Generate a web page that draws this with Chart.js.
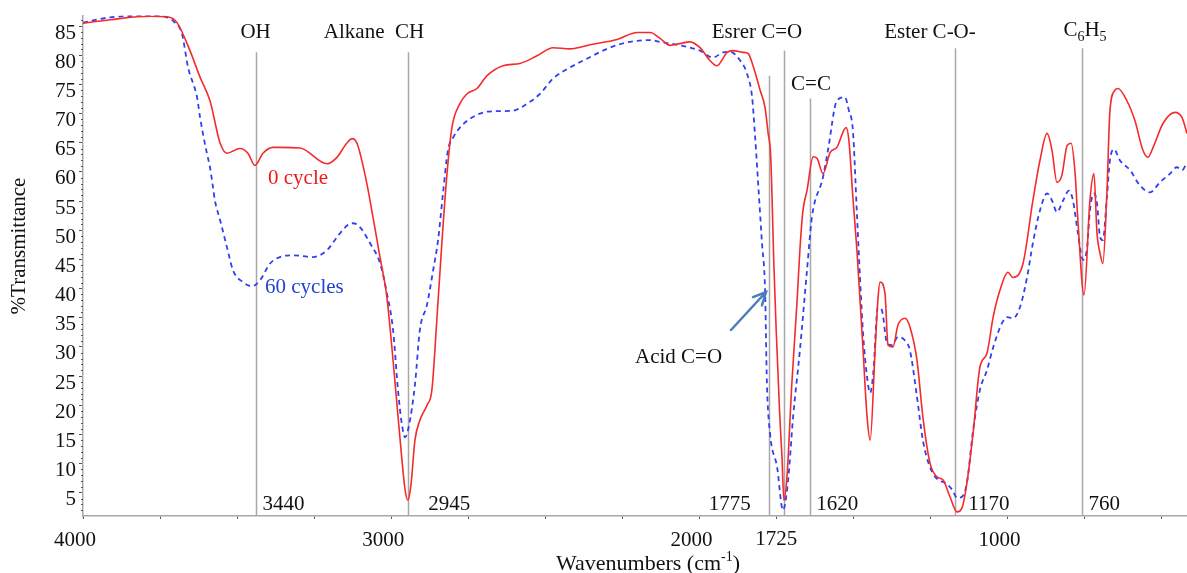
<!DOCTYPE html>
<html>
<head>
<meta charset="utf-8">
<script src="https://cdn.jsdelivr.net/npm/chart.js@4.4.1/dist/chart.umd.min.js"></script>
<style>
  html,body{margin:0;padding:0;background:#fff;}
  canvas{display:block;}
</style>
</head>
<body>
<canvas id="ir" width="1187" height="573"></canvas>
<script>
// ===== data (wavenumber cm-1, %T) =====
const wn0 = [4000,3912,3783,3727,3695,3653,3620,3588,3555,3533,3491,3465,3442,3416,3384,3361,3296,3208,3176,3143,3127,3111,3079,3059,3036,3014,2994,2971,2955,2946,2936,2923,2907,2884,2868,2852,2835,2819,2803,2777,2754,2722,2689,2637,2582,2527,2475,2420,2355,2267,2202,2160,2128,2095,2063,2031,1998,1966,1943,1910,1891,1859,1842,1826,1803,1787,1777,1769,1764,1759,1751,1740,1732,1726,1716,1700,1683,1674,1664,1651,1631,1618,1599,1576,1554,1524,1515,1502,1489,1469,1456,1446,1430,1421,1414,1398,1388,1372,1356,1333,1317,1294,1275,1252,1229,1210,1187,1164,1148,1132,1112,1090,1067,1047,1025,999,983,950,918,895,872,856,840,824,807,794,781,772,752,733,720,710,700,691,678,668,652,642,613,587,561,545,528,496,457,434,418];
const t0  = [85.5,86.1,86.7,86.6,85.6,80.8,76.2,72.2,64.9,63.2,64.0,63.2,61.1,63.2,64.2,64.2,64.1,61.4,62.5,65.0,65.7,64.9,58.0,52.2,45.3,38.5,27.7,14.0,5.5,3.7,6.3,14.0,17.4,20.0,22.6,34.6,48.3,59.7,67.6,71.7,73.4,74.3,76.5,78.2,78.6,79.9,81.3,81.1,81.8,82.7,83.9,83.9,82.9,81.7,82.0,82.3,81.3,79.1,78.2,80.5,80.8,80.5,80.3,78.2,74.0,71.0,66.6,63.0,55.0,45.0,33.0,19.0,11.0,3.7,7.7,23.8,38.0,46.6,53.4,56.8,62.6,62.3,59.7,63.3,64.2,67.6,65.4,55.6,46.6,29.4,18.0,14.0,29.4,38.0,41.1,39.2,30.3,30.0,33.7,34.9,33.4,27.7,18.0,10.1,7.7,7.2,4.3,1.7,2.4,6.7,15.2,26.5,28.9,35.1,39.7,42.8,41.9,44.3,55.1,62.0,66.6,63.7,58.2,59.4,64.5,64.9,59.7,51.7,38.9,55.1,59.7,49.5,46.0,44.3,56.3,70.5,74.0,74.3,72.2,68.8,63.7,62.5,64.2,68.3,70.2,69.3,66.6];

const wn60 = [4000,3912,3783,3727,3708,3679,3659,3630,3620,3611,3598,3588,3578,3572,3555,3533,3513,3481,3452,3426,3393,3361,3319,3254,3208,3176,3143,3124,3101,3069,3036,3014,2994,2978,2965,2955,2942,2923,2907,2884,2864,2848,2832,2816,2799,2770,2712,2670,2605,2559,2517,2475,2420,2365,2300,2235,2160,2128,2063,2031,1998,1956,1923,1901,1868,1846,1829,1820,1810,1797,1787,1781,1771,1748,1729,1713,1696,1674,1651,1635,1599,1583,1554,1528,1515,1502,1489,1479,1469,1456,1446,1436,1421,1408,1391,1375,1356,1333,1317,1294,1275,1252,1226,1203,1180,1164,1148,1132,1112,1090,1067,1047,1018,1002,983,960,937,918,895,872,856,840,820,801,788,772,755,742,733,720,710,700,691,678,668,655,636,603,571,538,506,473,451,434,418];
const t60 = [85.6,86.5,86.8,86.5,85.9,83.7,77.9,72.8,69.3,66.6,63.2,60.8,57.3,55.1,51.7,47.1,43.1,41.1,40.4,41.4,44.3,45.4,45.7,45.4,46.6,48.8,50.8,51.2,50.5,47.8,44.3,39.2,32.9,22.6,16.6,14.5,16.6,23.5,32.9,37.2,43.1,48.3,56.3,63.7,65.9,68.0,70.0,70.4,70.5,71.7,73.4,76.0,77.9,79.4,81.1,82.2,82.6,82.3,81.7,81.3,80.8,79.6,80.5,80.6,79.1,76.9,72.8,66.6,58.5,47.8,39.7,23.8,15.2,9.4,2.0,6.7,18.0,29.4,43.1,52.2,59.1,63.7,72.2,72.8,70.5,67.1,52.9,41.9,32.3,24.8,22.1,25.5,36.8,36.3,30.6,30.3,31.7,31.1,29.4,21.4,14.0,9.4,7.2,6.7,5.5,4.1,4.3,6.7,15.7,22.6,26.0,29.9,34.1,35.1,34.9,36.8,41.9,47.8,53.4,56.3,55.1,53.1,55.1,56.8,55.1,49.5,44.9,47.1,53.4,56.3,54.6,48.8,48.3,55.6,62.0,63.9,62.0,60.3,57.7,56.5,58.2,59.7,60.8,60.3,61.6];

// band marker lines
const markerWn  = [3440, 2945, 1775, 1725, 1640, 1170, 760];
const markerTop = [80.5, 80.5, 76.5, 80.8, 72.6, 81.2, 81.2];
const markerNum = ['3440','2945','1775','','1620','1170','760'];

const xTicks = [4000,3750,3500,3250,3000,2750,2500,2250,2000,1750,1500,1250,1000,750,500];
const xLabeled = [4000,3000,2000,1000];
const yTicks = [5,10,15,20,25,30,35,40,45,50,55,60,65,70,75,80,85];

const SERIF = "'Liberation Serif','DejaVu Serif',serif";
const pts = (xs,ys)=>xs.map((x,i)=>({x,y:ys[i]}));

// rich text: [text, 'sub'|'sup'|undefined]
function rich(ctx, parts, x, y, size, align){
  const f = s=>`${s}px ${SERIF}`;
  let w=0; parts.forEach(([t,m])=>{ ctx.font=f(m?Math.round(size*0.65):size); w+=ctx.measureText(t).width; });
  let cx = align==='center' ? x-w/2 : x;
  ctx.textAlign='left'; ctx.textBaseline='alphabetic';
  parts.forEach(([t,m])=>{ const s=m?Math.round(size*0.65):size; ctx.font=f(s);
    const dy = m==='sub'? size*0.22 : m==='sup'? -size*0.42 : 0;
    ctx.fillText(t,cx,y+dy); cx+=ctx.measureText(t).width; });
}

const decor = {
  id:'decor',
  beforeDatasetsDraw(c){ const {ctx,scales:{x,y}}=c;
    ctx.save(); ctx.strokeStyle='#a8a8a8'; ctx.lineWidth=1.5;
    markerWn.forEach((w,i)=>{ const px=Math.round(x.getPixelForValue(w))+0.5;
      ctx.beginPath(); ctx.moveTo(px,y.getPixelForValue(markerTop[i])); ctx.lineTo(px,y.bottom); ctx.stroke(); });
    ctx.restore(); },
  afterDraw(c){ const {ctx,scales:{x,y}}=c;
    const F21=`21px ${SERIF}`;
    ctx.save();
    // minor ticks on y
    ctx.strokeStyle='#555'; ctx.lineWidth=1;
    for(let v=2; v<=86; v++){ if(v%5===0) continue; const py=Math.round(y.getPixelForValue(v))+0.5;
      ctx.beginPath(); ctx.moveTo(x.left-2,py); ctx.lineTo(x.left,py); ctx.stroke(); }
    ctx.fillStyle='#111';
    // band numbers near baseline
    const off=[7,20,-60,0,6,13,7];
    ctx.font=F21; ctx.textAlign='left'; ctx.textBaseline='alphabetic';
    markerNum.forEach((t,i)=>{ if(!t) return; ctx.fillText(t, x.getPixelForValue(markerWn[i])+off[i], 510); });
    ctx.textAlign='center'; ctx.fillText('1725', x.getPixelForValue(1725)-8, 545);
    // group labels
    ctx.fillText('OH', x.getPixelForValue(3440), 38);
    ctx.fillText('Alkane  CH', 374, 38);
    ctx.fillText('Esrer C=O', 757, 38);
    ctx.fillText('C=C', 811, 90);
    ctx.fillText('Ester C-O-', 930, 38);
    rich(ctx, [['C'],['6','sub'],['H'],['5','sub']], 1085, 36, 21, 'center');
    ctx.font=F21; ctx.textAlign='left';
    ctx.fillText('Acid C=O', 635, 363);
    ctx.fillStyle='#f01818'; ctx.fillText('0 cycle', 268, 184);
    ctx.fillStyle='#2443d0'; ctx.fillText('60 cycles', 265, 293);
    // arrow
    ctx.strokeStyle='#4a7ebb'; ctx.lineWidth=2.5; ctx.lineCap='round';
    const ax=731, ay=330, bx=766, by=292, a=Math.atan2(by-ay,bx-ax);
    ctx.beginPath(); ctx.moveTo(ax,ay); ctx.lineTo(bx,by);
    ctx.moveTo(bx-14*Math.cos(a-0.45), by-14*Math.sin(a-0.45)); ctx.lineTo(bx,by);
    ctx.lineTo(bx-14*Math.cos(a+0.45), by-14*Math.sin(a+0.45)); ctx.stroke();
    // axis titles
    ctx.fillStyle='#111';
    rich(ctx, [['Wavenumbers (cm'],['-1','sup'],[')']], 648, 570, 22, 'center');
    ctx.translate(25,246); ctx.rotate(-Math.PI/2);
    ctx.font=F21; ctx.textAlign='center'; ctx.fillText('%Transmittance',0,0);
    ctx.restore(); }
};

new Chart(document.getElementById('ir'), {
  type:'line',
  data:{ datasets:[
    {label:'0 cycle', data:pts(wn0,t0), borderColor:'#f52a2a', borderWidth:1.6, pointRadius:0, cubicInterpolationMode:'monotone', fill:false},
    {label:'60 cycles', data:pts(wn60,t60), borderColor:'#3040f0', borderWidth:1.8, borderDash:[5,4], pointRadius:0, cubicInterpolationMode:'monotone', fill:false}
  ]},
  options:{
    responsive:false, animation:false,
    layout:{padding:{top:15,right:0,bottom:0,left:0}},
    plugins:{legend:{display:false}, tooltip:{enabled:false}},
    scales:{
      x:{ type:'linear', reverse:true, min:418, max:4000,
        afterBuildTicks:s=>{ s.ticks=xTicks.map(v=>({value:v})); },
        afterFit:s=>{ s.height=57; },
        border:{color:'#a8a8a8', width:1.5},
        grid:{display:true, drawOnChartArea:false, tickLength:3, color:'#555'},
        ticks:{ autoSkip:false, maxRotation:0, padding:9, labelOffset:-8, color:'#111', font:{family:SERIF,size:21},
          callback:v=>xLabeled.includes(v)?String(v):'' } },
      y:{ min:1, max:86.8,
        afterBuildTicks:s=>{ s.ticks=yTicks.map(v=>({value:v})); },
        afterFit:s=>{ s.width=83; },
        border:{color:'#a8a8a8', width:1.5},
        grid:{display:true, drawOnChartArea:false, tickLength:4, color:'#555'},
        ticks:{ padding:3, labelOffset:7, color:'#111', font:{family:SERIF,size:21} } }
    }
  },
  plugins:[decor]
});
</script>
</body>
</html>
